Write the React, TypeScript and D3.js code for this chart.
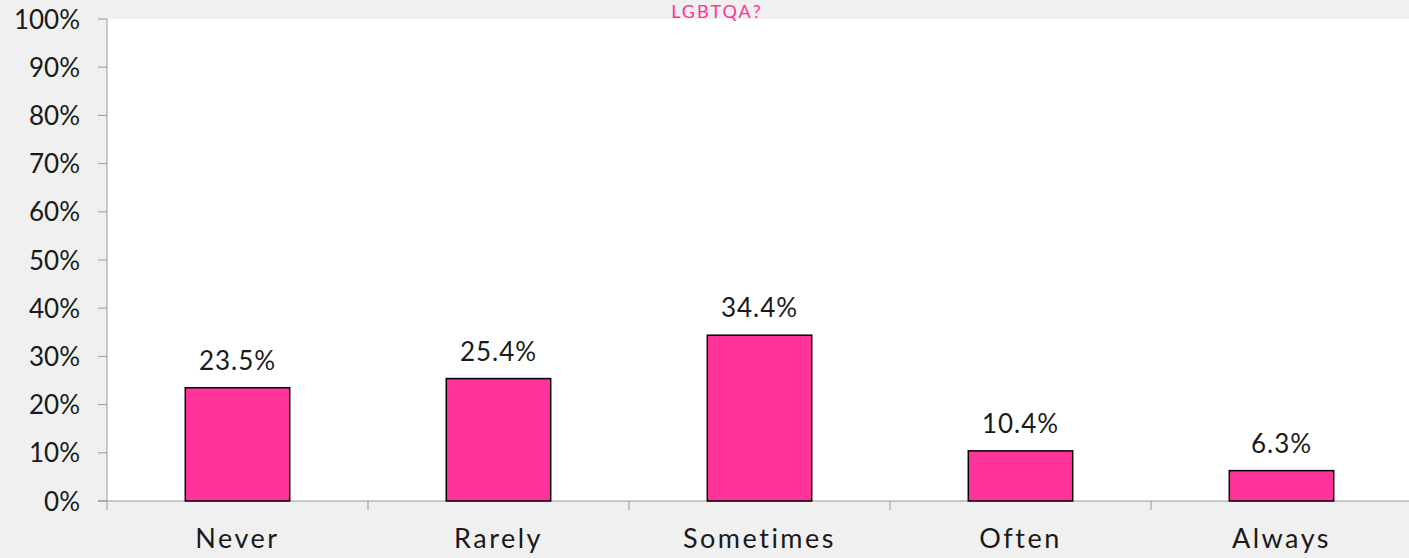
import React from "react";
import * as d3 from "d3";

const categories = ["Never", "Rarely", "Sometimes", "Often", "Always"];
const values = [23.5, 25.4, 34.4, 10.4, 6.3];
const yTicks = [0, 10, 20, 30, 40, 50, 60, 70, 80, 90, 100];
const title = "LGBTQA?";

const W = 1409;
const H = 558;
const left = 107;
const top = 19;
const bottom = 501;
const right = 1412;

export default function App() {
  const x = d3.scaleBand<string>().domain(categories).range([left, right]).paddingInner(0.6).paddingOuter(0.3);
  const xb = d3.scaleBand<string>().domain(categories).range([left, right]);
  const y = d3.scaleLinear().domain([0, 100]).range([bottom, top]);
  const font = "Lato, 'Open Sans', sans-serif";
  return (
    <svg width={W} height={H} style={{ position: "absolute", left: 0, top: 0 }} fontFamily={font}>
      <rect x={0} y={0} width={W} height={H} fill="#f0f0f0" />
      <rect x={left} y={top} width={right - left} height={bottom - top} fill="#ffffff" />
      <text x={717} y={18} textAnchor="middle" fontSize={18} letterSpacing={2} fill="#ff3399">{title}</text>
      {/* y axis */}
      <line x1={left} x2={left} y1={top} y2={bottom} stroke="#999" strokeWidth={1} />
      {yTicks.map((t) => (
        <g key={t}>
          <line x1={left - 9} x2={left} y1={y(t)} y2={y(t)} stroke="#999" />
          <text x={80} y={y(t) + 9.5} textAnchor="end" fontSize={26} fill="#1a1a1a">{t}%</text>
        </g>
      ))}
      {/* x axis */}
      <line x1={left - 9} x2={right} y1={bottom} y2={bottom} stroke="#999" />
      {categories.map((c) => (
        <line key={c} x1={xb(c)!} x2={xb(c)!} y1={bottom} y2={bottom + 9} stroke="#999" />
      ))}
      {categories.map((c, i) => (
        <g key={c}>
          <rect x={x(c)!} y={y(values[i])} width={x.bandwidth()} height={bottom - y(values[i])} fill="#ff3399" stroke="#000" strokeWidth={1.5} />
          <text x={x(c)! + x.bandwidth() / 2} y={y(values[i]) - 18} textAnchor="middle" fontSize={26} fill="#1a1a1a" letterSpacing={1}>{values[i].toFixed(1)}%</text>
          <text x={xb(c)! + xb.bandwidth() / 2} y={548} textAnchor="middle" fontSize={27} fill="#1a1a1a" letterSpacing={2.5}>{c}</text>
        </g>
      ))}
    </svg>
  );
}
